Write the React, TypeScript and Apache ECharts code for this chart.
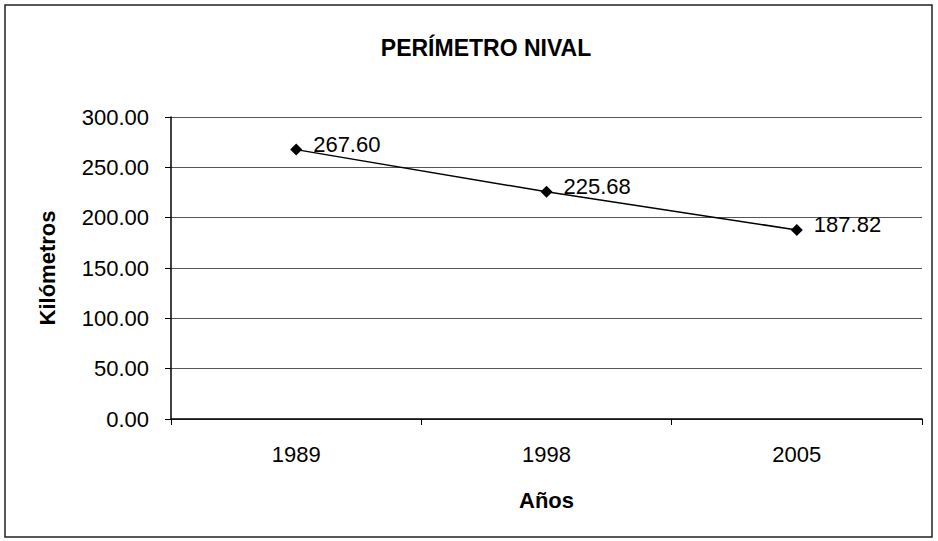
import React, { useEffect, useRef } from "react";
import * as echarts from "echarts";

const categories = ["1989", "1998", "2005"];
const values = [267.6, 225.68, 187.82];
const yTicks = { min: 0, max: 300, interval: 50 };
const titleText = "PERÍMETRO NIVAL";
const xName = "Años";
const yName = "Kilómetros";

const FONT = "'Liberation Sans', Arial, sans-serif";

export default function App() {
  const ref = useRef<HTMLDivElement>(null);
  useEffect(() => {
    if (!ref.current) return;
    const chart = echarts.init(ref.current, null, { renderer: "svg" });
    chart.setOption({
      animation: false,
      backgroundColor: "#ffffff",
      textStyle: { fontFamily: FONT },
      title: {
        text: titleText,
        left: 481,
        textAlign: "center",
        top: 31,
        textStyle: { fontFamily: FONT, fontSize: 23, fontWeight: "bold", color: "#000" },
      },
      graphic: [
        {
          type: "rect",
          shape: { x: 5, y: 5, width: 927, height: 532 },
          style: { fill: "none", stroke: "#222", lineWidth: 1.5 },
          silent: true,
        },
      ],
      grid: { left: 171, top: 117, right: 16, bottom: 122, containLabel: false },
      xAxis: {
        type: "category",
        data: categories,
        boundaryGap: true,
        name: xName,
        nameLocation: "middle",
        nameGap: 70,
        nameTextStyle: { fontFamily: FONT, fontSize: 22, fontWeight: "bold", color: "#000" },
        axisLine: { lineStyle: { color: "#000", width: 1.5 } },
        axisTick: { show: true, length: 6, inside: false, lineStyle: { color: "#000" } },
        axisLabel: { fontFamily: FONT, fontSize: 22, color: "#000", margin: 24 },
        splitLine: { show: false },
      },
      yAxis: {
        type: "value",
        min: yTicks.min,
        max: yTicks.max,
        interval: yTicks.interval,
        name: yName,
        nameLocation: "middle",
        nameGap: 113,
        nameRotate: 90,
        nameTextStyle: { fontFamily: FONT, fontSize: 22, fontWeight: "bold", color: "#000" },
        axisLine: { show: true, lineStyle: { color: "#000", width: 1.5 } },
        axisTick: { show: true, length: 6, lineStyle: { color: "#000" } },
        axisLabel: {
          fontFamily: FONT,
          fontSize: 22,
          color: "#000",
          margin: 22,
          formatter: (v: number) => v.toFixed(2),
        },
        splitLine: { show: true, lineStyle: { color: "#555", width: 1 } },
      },
      series: [
        {
          type: "line",
          data: values,
          symbol: "diamond",
          symbolSize: 12,
          itemStyle: { color: "#000" },
          lineStyle: { color: "#000", width: 1.5 },
          label: {
            show: true,
            position: "right",
            offset: [6, -5],
            fontFamily: FONT,
            fontSize: 22,
            color: "#000",
            formatter: (p: any) => Number(p.value).toFixed(2),
          },
        },
      ],
    });
    return () => chart.dispose();
  }, []);
  return (
    <div
      ref={ref}
      style={{ position: "fixed", left: 0, top: 0, width: 938, height: 541 }}
    />
  );
}
